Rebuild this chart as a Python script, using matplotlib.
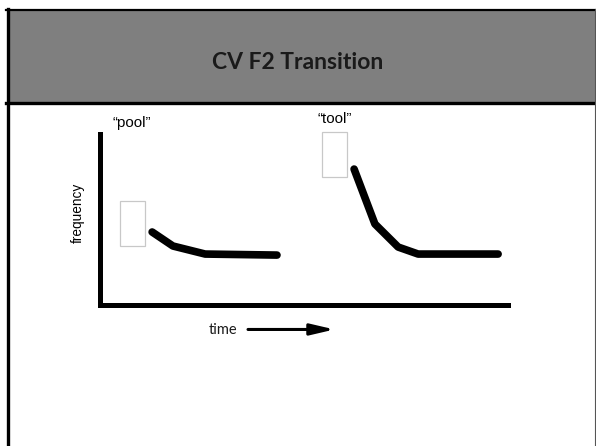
import matplotlib
matplotlib.use('Agg')
import matplotlib.pyplot as plt
from matplotlib.patches import Rectangle

# --------------------------------------------------
# data (arbitrary units: time 0..100, frequency 0..100)
# --------------------------------------------------
title = 'CV F2 Transition'
pool_time = [12.9, 18.0, 25.9, 43.5]
pool_freq = [42.4, 34.2, 29.5, 28.9]
tool_time = [62.4, 67.5, 73.2, 78.1, 97.7]
tool_freq = [79.2, 47.1, 33.6, 29.5, 29.5]
# empty boxes next to each curve: (time0, freq0, width, height)
pool_box = (5.0, 34.2, 6.2, 26.3)
tool_box = (54.5, 74.6, 6.2, 26.3)
labels = ['\u201cpool\u201d', '\u201ctool\u201d']

W, H = 596, 446
fig = plt.figure(figsize=(W / 100, H / 100), dpi=100)

# --------------------------------------------------
# slide frame (pixel coords)
# --------------------------------------------------
bg = fig.add_axes([0, 0, 1, 1])
bg.set_xlim(0, W)
bg.set_ylim(H, 0)
bg.axis('off')
bg.add_patch(Rectangle((7, 9), 588, 94, facecolor='#7f7f7f', edgecolor='none'))
bg.plot([6, 596], [10, 10], color='black', lw=1.6)
bg.plot([6, 596], [102.5, 102.5], color='black', lw=2.4)
bg.plot([7.5, 7.5], [9, H], color='black', lw=2.4)
bg.plot([595, 595], [9, H], color='#555555', lw=0.8)
bg.text(W / 2, 62.5, title, ha='center', va='center', fontsize=16.5,
        fontweight='bold', family='Lato', color='#1a1a1a')

# --------------------------------------------------
# chart
# --------------------------------------------------
left, right, top, bottom = 99.5, 507.5, 133.5, 304.5
ax = fig.add_axes([left / W, 1 - bottom / H, (right - left) / W, (bottom - top) / H])
ax.set_xlim(0, 100)
ax.set_ylim(0, 100)
ax.patch.set_alpha(0)
for s in ['top', 'right']:
    ax.spines[s].set_visible(False)
for s in ['left', 'bottom']:
    ax.spines[s].set_linewidth(3.6)
    ax.spines[s].set_capstyle('projecting')
ax.set_xticks([])
ax.set_yticks([])

ax.plot(pool_time, pool_freq, color='black', lw=5.5, solid_capstyle='round',
        solid_joinstyle='round', clip_on=False)
ax.plot(tool_time, tool_freq, color='black', lw=5.5, solid_capstyle='round',
        solid_joinstyle='round', clip_on=False)

for b in [pool_box, tool_box]:
    ax.add_patch(Rectangle((b[0], b[1]), b[2], b[3], facecolor='none',
                           edgecolor='#c8c8c8', lw=0.9, clip_on=False))

ax.text(8.0, 106.3, labels[0], ha='center', va='center', fontsize=10.8,
        family='Liberation Sans', clip_on=False)
ax.text(57.7, 108.6, labels[1], ha='center', va='center', fontsize=10.8,
        family='Liberation Sans', clip_on=False)
ax.text(-5.3, 53.5, 'frequency', rotation=90, ha='center', va='center',
        fontsize=9.8, family='Liberation Sans', clip_on=False)
ax.text(30.3, -14.8, 'time', ha='center', va='center', fontsize=10.5,
        family='Lato', color='#1a1a1a', clip_on=False)
ax.annotate('', xy=(57.6, -14.6), xytext=(36.4, -14.6), xycoords='data',
            arrowprops=dict(arrowstyle='-|>,head_length=1.2,head_width=0.28',
                            color='black', lw=2.2, mutation_scale=12,
                            shrinkA=0, shrinkB=0),
            annotation_clip=False)

fig.savefig('out.png', dpi=100)
